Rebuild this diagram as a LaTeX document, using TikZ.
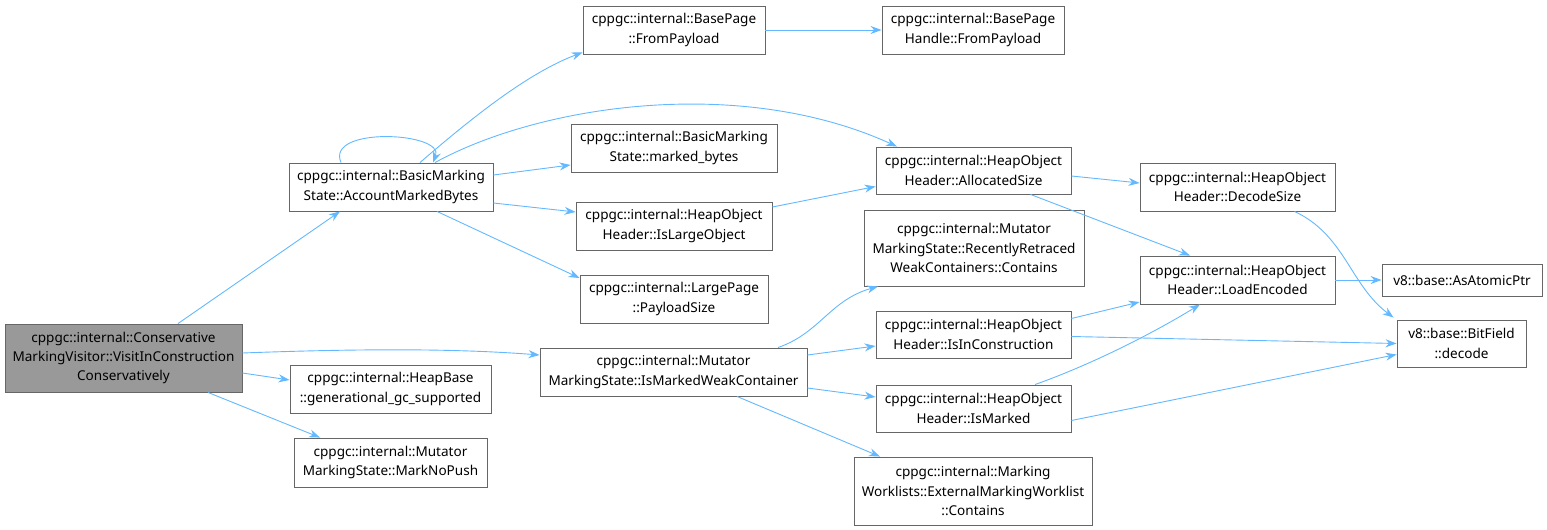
\documentclass[tikz,border=0pt]{standalone}
\usepackage{fontspec}
\setmainfont{Noto Sans}
\usetikzlibrary{arrows.meta}
\definecolor{edgeblue}{HTML}{63B8FF}
\definecolor{boxline}{HTML}{666666}
\definecolor{mainfill}{HTML}{999999}
\tikzset{
  fn/.style={draw=boxline, line width=0.9bp, fill=white, inner sep=0pt, align=center,
    font=\fontsize{13.6}{19.5}\selectfont, text=black},
  mainfn/.style={fn, fill=mainfill},
  call/.style={draw=edgeblue, line width=0.9bp, -{Stealth[length=11bp,width=8bp]}},
}
\newcommand{\fnbox}[7][fn]{%
  \node[#1, minimum width={(#5-#3)*1bp}, minimum height={(#6-#4)*1bp}]
    (#2) at ({(#3+#5)/2},{(#4+#6)/2}) {#7};}
\begin{document}
\begin{tikzpicture}[x=1bp, y=-1bp]
\useasboundingbox (0,0) rectangle (1547,530);
\fnbox[mainfn]{main}{5}{324}{242}{392}{cppgc::internal::Conservative\\MarkingVisitor::VisitInConstruction\\Conservatively}
\fnbox{amb}{289}{163}{493}{211}{cppgc::internal::BasicMarking\\State::AccountMarkedBytes}
\fnbox{fp}{583}{6}{765}{54}{cppgc::internal::BasePage\\::FromPayload}
\fnbox{fph}{882}{6}{1064}{54}{cppgc::internal::BasePage\\Handle::FromPayload}
\fnbox{mb}{571}{124}{777}{172}{cppgc::internal::BasicMarking\\State::marked\_bytes}
\fnbox{alloc}{876}{147}{1071}{194}{cppgc::internal::HeapObject\\Header::AllocatedSize}
\fnbox{ilo}{576}{202}{772}{250}{cppgc::internal::HeapObject\\Header::IsLargeObject}
\fnbox{ps}{580}{275}{768}{323}{cppgc::internal::LargePage\\::PayloadSize}
\fnbox{ds}{1140}{163}{1335}{211}{cppgc::internal::HeapObject\\Header::DecodeSize}
\fnbox{rr}{864}{210}{1084}{286}{cppgc::internal::Mutator\\MarkingState::RecentlyRetraced\\WeakContainers::Contains}
\fnbox{le}{1140}{256}{1335}{304}{cppgc::internal::HeapObject\\Header::LoadEncoded}
\fnbox{aap}{1382}{264}{1542}{296}{v8::base::AsAtomicPtr}
\fnbox{bf}{1397}{320}{1526}{367}{v8::base::BitField\\::decode}
\fnbox{imwc}{540}{348}{807}{396}{cppgc::internal::Mutator\\MarkingState::IsMarkedWeakContainer}
\fnbox{iic}{876}{311}{1071}{358}{cppgc::internal::HeapObject\\Header::IsInConstruction}
\fnbox{im}{876}{385}{1071}{432}{cppgc::internal::HeapObject\\Header::IsMarked}
\fnbox{ext}{854}{457}{1092}{525}{cppgc::internal::Marking\\Worklists::ExternalMarkingWorklist\\::Contains}
\fnbox{hb}{290}{365}{491}{413}{cppgc::internal::HeapBase\\::generational\_gc\_supported}
\fnbox{mnp}{294}{438}{487}{487}{cppgc::internal::Mutator\\MarkingState::MarkNoPush}

\draw[call] ([xshift=54.5bp]main.north) -- ([xshift=-51bp]amb.south);
\draw[call] ([yshift=5bp]main.east) .. controls (350,349) and (450,348) .. ([yshift=17bp]imwc.west);
\draw[call] ([yshift=-15bp]main.east) -- ([yshift=9bp]hb.west);
\draw[call] ([xshift=84.5bp]main.south) -- ([xshift=-70.5bp]mnp.north);
\draw[call] ([xshift=-50bp]amb.north) .. controls (325,126) and (445,132) .. ([xshift=42bp]amb.north);
\draw[call] ([xshift=29bp]amb.north) .. controls (475,115) and (530,72) .. ([yshift=2bp]fp.south west);
\draw[call] ([xshift=44bp]amb.north) .. controls (540,105) and (740,75) .. ([xshift=-76.5bp]alloc.north);
\draw[call] ([yshift=12bp]amb.east) -- ([yshift=-17bp]mb.west);
\draw[call] ([yshift=-16bp]amb.east) -- ([yshift=14bp]ilo.west);
\draw[call] ([xshift=46bp]amb.south) -- ([yshift=21bp]ps.west);
\draw[call] (fp.east) -- (fph.west);
\draw[call] ([yshift=-5.5bp]alloc.east) -- ([yshift=4bp]ds.west);
\draw[call] ([xshift=57bp]alloc.south) -- ([xshift=-47.5bp]le.north);
\draw[call] ([yshift=19bp]ilo.east) -- ([yshift=-16bp]alloc.west);
\draw[call] ([xshift=57bp]ds.south) .. controls (1345,235) and (1350,285) .. ([xshift=-3bp,yshift=2bp]bf.north west);
\draw[call] (le.east) -- (aap.west);
\draw[call] ([xshift=104.5bp]imwc.north) .. controls (820,333) and (830,300) .. ([xshift=-96bp]rr.south);
\draw[call] ([yshift=17bp]imwc.east) -- ([yshift=-11.5bp]iic.west);
\draw[call] ([yshift=-16bp]imwc.east) -- ([yshift=11.5bp]im.west);
\draw[call] ([xshift=63.5bp]imwc.south) -- ([xshift=-93bp]ext.north);
\draw[call] ([yshift=16bp]iic.east) -- ([yshift=-22bp]le.west);
\draw[call] ([yshift=-2bp]iic.east) -- (bf.west);
\draw[call] ([xshift=61.5bp]im.north) .. controls (1090,365) and (1150,335) .. ([xshift=-37.5bp]le.south);
\draw[call] ([yshift=-12bp]im.east) -- ([yshift=-11bp]bf.west);
\end{tikzpicture}
\end{document}
